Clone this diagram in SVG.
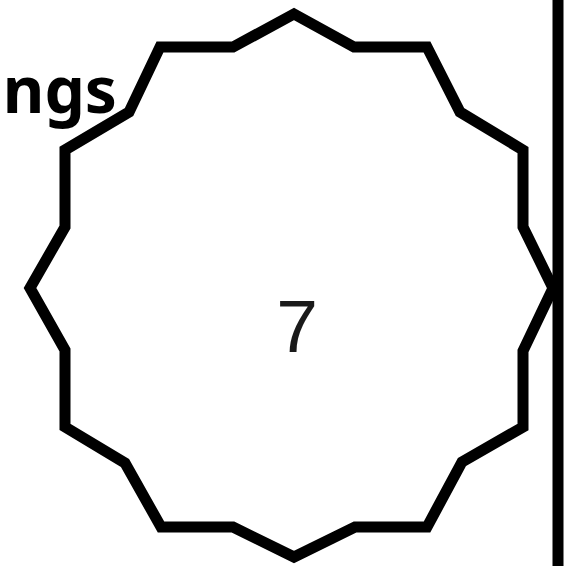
<svg xmlns="http://www.w3.org/2000/svg" width="579" height="566" viewBox="0 0 579 566">
<style>
.shape{fill:#fff;stroke:#000;stroke-width:11;stroke-linejoin:miter;stroke-miterlimit:10}
.bar{stroke:#000;stroke-width:11}
.num{font-family:"Liberation Sans",Arial,sans-serif;font-size:75px;fill:#1a1a1a}
.lbl{font-family:"Noto Sans","Open Sans",sans-serif;font-weight:bold;font-size:64px;fill:#000}
</style>
<rect width="579" height="566" fill="#fff"/>
<g id="connectors">
<line class="bar" x1="558" y1="0" x2="558" y2="566"/>
</g>
<g id="node-7">
<polygon class="shape" points="294,14 354,47 427,47 460,112 523,150 523,227 553,288 523,351 523,427 462,462 427,527 355,527 294,557 233,527 161,527 125,463 65,427 65,350 30,288 65,227 65,150 129,112 160,47 233,47"/>
<text class="num" x="297" y="352" text-anchor="middle">7</text>
</g>
<g id="label-ngs">
<text class="lbl" x="117" y="113" text-anchor="end">ngs</text>
</g>
</svg>
